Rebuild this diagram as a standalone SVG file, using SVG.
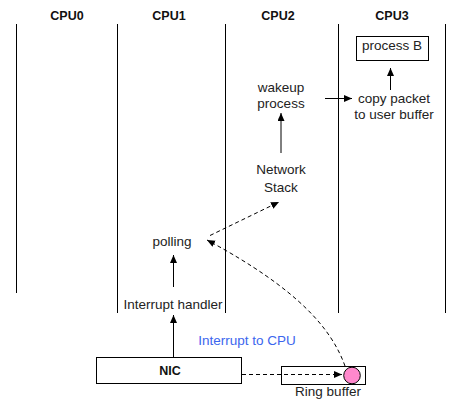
<svg xmlns="http://www.w3.org/2000/svg" width="464" height="407" viewBox="0 0 464 407">
<style>
.t{font-family:"Liberation Sans",Arial,sans-serif;font-size:13.5px;fill:#222;text-anchor:middle}
.b{font-family:"Liberation Sans",Arial,sans-serif;font-size:12.5px;font-weight:bold;fill:#111;text-anchor:middle}
.ln{stroke:#000;stroke-width:1;fill:none}
.d{stroke:#000;stroke-width:1;fill:none;stroke-dasharray:4,3}
.box{fill:#fff;stroke:#000;stroke-width:1}
</style>
<defs>
<marker id="ah" markerUnits="userSpaceOnUse" markerWidth="9" markerHeight="8" refX="8" refY="3.5" orient="auto">
<path d="M0,0 L8,3.5 L0,7 z" fill="#000"/>
</marker>
</defs>
<rect width="464" height="407" fill="#fff"/>
<g id="lanes">
<line class="ln" x1="16.5" y1="24" x2="16.5" y2="293"/>
<line class="ln" x1="117.5" y1="24" x2="117.5" y2="313"/>
<line class="ln" x1="225.5" y1="24" x2="225.5" y2="313"/>
<line class="ln" x1="338.5" y1="24" x2="338.5" y2="313"/>
<line class="ln" x1="445.5" y1="24" x2="445.5" y2="313"/>
<text class="b" x="67" y="20">CPU0</text>
<text class="b" x="169" y="20">CPU1</text>
<text class="b" x="278" y="20">CPU2</text>
<text class="b" x="392" y="20">CPU3</text>
</g>
<g id="processB">
<rect class="box" x="356.5" y="36.5" width="72" height="24"/>
<text class="t" x="392" y="50">process B</text>
</g>
<g id="wakeup">
<text class="t" x="281" y="92">wakeup</text>
<text class="t" x="281" y="108">process</text>
</g>
<g id="copy">
<text class="t" x="394" y="103">copy packet</text>
<text class="t" x="394" y="119">to user buffer</text>
</g>
<g id="netstack">
<text class="t" x="281" y="174">Network</text>
<text class="t" x="281" y="192">Stack</text>
</g>
<g id="polling">
<text class="t" x="172" y="246">polling</text>
</g>
<g id="handler">
<text class="t" x="173" y="309">Interrupt handler</text>
</g>
<g id="nic">
<rect class="box" x="96.5" y="357.5" width="145" height="26"/>
<text class="b" x="170" y="375">NIC</text>
</g>
<g id="ring">
<rect class="box" x="281.5" y="366.5" width="84" height="18"/>
<circle cx="352" cy="375.5" r="8.3" fill="#ff88cc" stroke="#000" stroke-width="1"/>
<text class="t" x="328" y="396">Ring buffer</text>
</g>
<g id="connectors">
<line class="ln" x1="390.5" y1="90" x2="390.5" y2="68" marker-end="url(#ah)"/>
<line class="ln" x1="325" y1="98.5" x2="352" y2="98.5" marker-end="url(#ah)"/>
<line class="ln" x1="281" y1="153" x2="281" y2="113" marker-end="url(#ah)"/>
<line class="d" x1="210" y1="235.5" x2="279" y2="202" marker-end="url(#ah)"/>
<line class="ln" x1="173.5" y1="287" x2="173.5" y2="255" marker-end="url(#ah)"/>
<line class="ln" x1="173.5" y1="357" x2="173.5" y2="315" marker-end="url(#ah)"/>
<line class="d" x1="242" y1="374.5" x2="342" y2="374.5" marker-end="url(#ah)"/>
<path class="d" d="M345,366 C332,330 300,290 207,240" marker-end="url(#ah)"/>
<text class="t" x="247" y="345" style="fill:#3b66ee">Interrupt to CPU</text>
</g>
</svg>
